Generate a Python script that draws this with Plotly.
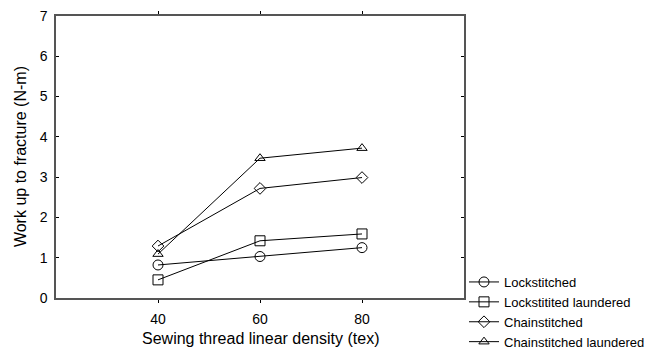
import plotly.graph_objects as go

x_vals = [40, 60, 80]
lockstitched = [0.82, 1.03, 1.25]
lock_laundered = [0.45, 1.42, 1.59]
chainstitched = [1.29, 2.72, 2.99]
chain_laundered = [1.09, 3.47, 3.72]
names = ["Lockstitched", "Lockstitited laundered", "Chainstitched", "Chainstitched laundered"]
symbols = ["circle-open", "square-open", "diamond-open", "triangle-up-open"]
sizes = [10, 10, 9, 9]

fig = go.Figure()
for ys, nm, sym, sz in zip([lockstitched, lock_laundered, chainstitched, chain_laundered], names, symbols, sizes):
    fig.add_trace(go.Scatter(
        x=x_vals, y=ys, name=nm, mode="lines+markers",
        line=dict(color="black", width=1),
        marker=dict(symbol=sym, size=sz, color="black", line=dict(width=1, color="black")),
    ))

FONT = "Liberation Sans, Arial"
axis_common = dict(showline=True, mirror="ticks", linecolor="#555", linewidth=1.5,
                   showgrid=False, zeroline=False, ticklen=3, automargin=False,
                   tickcolor="black", tickfont=dict(family=FONT, size=14, color="black"))
fig.update_xaxes(range=[20, 100], tickvals=[40, 60, 80], ticks="outside", ticklabelstandoff=4, **axis_common)
fig.update_yaxes(range=[0, 7], dtick=1, ticks="inside", ticklabelstandoff=4, **axis_common)
fig.add_annotation(text="Sewing thread linear density (tex)", xref="paper", yref="paper",
                   x=0.5, y=-0.142, xanchor="center", yanchor="middle", showarrow=False,
                   font=dict(family=FONT, size=16, color="black"))
fig.add_annotation(text="Work up to fracture (N-m)", xref="paper", yref="paper",
                   x=-0.088, y=0.5, xanchor="center", yanchor="middle", textangle=-90, showarrow=False,
                   font=dict(family=FONT, size=16, color="black"))
fig.update_layout(
    width=666, height=351,
    margin=dict(l=56, r=202, t=16, b=53),
    plot_bgcolor="white", paper_bgcolor="white",
    font=dict(family=FONT, size=13, color="black"),
    legend=dict(xref="container", yref="container", x=464 / 666, y=1 - 267 / 351,
                xanchor="left", yanchor="top",
                font=dict(family=FONT, size=13, color="black"),
                itemwidth=30, tracegroupgap=0, bgcolor="rgba(0,0,0,0)"),
)
fig.write_html("out.html", config={"displayModeBar": False},
               post_script="document.body.style.margin='0';document.body.style.overflow='hidden';")
